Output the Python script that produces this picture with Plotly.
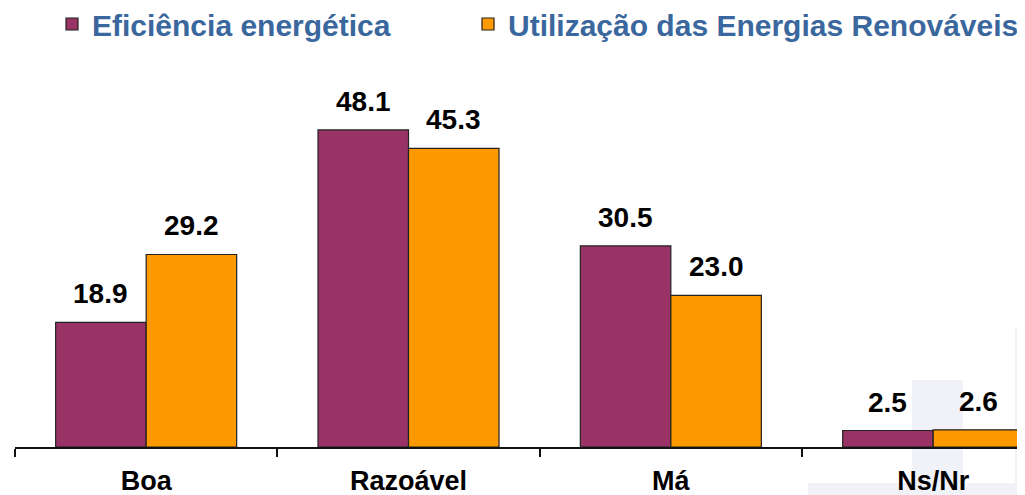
import plotly.graph_objects as go

categories = ["Boa", "Razoável", "Má", "Ns/Nr"]
eficiencia = [18.9, 48.1, 30.5, 2.5]
renovaveis = [29.2, 45.3, 23.0, 2.6]
series_names = ["Eficiência energética", "Utilização das Energias Renováveis"]
colors = ["#993366", "#FF9900"]

# the page body adds an 8px offset; the figure is sized to fill the rest of the window
OFF = 8
W, H = 1025 - OFF, 495 - OFF
ML, MR, MT, MB = 15 - OFF, 0, 60 - OFF, 48
BARGAP = 0.31
FONT = "Arial, Liberation Sans, sans-serif"

fig = go.Figure()
for i, (name, vals, col) in enumerate(zip(series_names, [eficiencia, renovaveis], colors)):
    fig.add_trace(go.Bar(
        x=categories, y=vals, name=name,
        legend="legend" if i == 0 else "legend2",
        marker=dict(color=col, line=dict(color="#222222", width=1.2)),
    ))

half = (1 - BARGAP) / 4
annotations = []
for si, vals in enumerate([eficiencia, renovaveis]):
    off = -half if si == 0 else half
    for ci, v in enumerate(vals):
        annotations.append(dict(
            x=ci + off, y=v, xref="x", yref="y", text=f"<b>{v:.1f}</b>",
            showarrow=False, yanchor="bottom", yshift=11,
            font=dict(family=FONT, size=28, color="#000000"),
        ))

pw = W - ML - MR
ph = H - MT - MB
def px2paper(px, py):
    px -= OFF
    py -= OFF
    return (px - ML) / pw, (H - MB - py) / ph

shapes = []
for (x0, y0, x1, y1) in [(912, 380, 963, 495), (1015, 328, 1025, 495), (808, 483, 1015, 495)]:
    a0, b0 = px2paper(x0, y1)
    a1, b1 = px2paper(x1, y0)
    shapes.append(dict(type="rect", xref="paper", yref="paper", x0=a0, x1=a1, y0=b0, y1=b1,
                       fillcolor="#F1F2F7", line=dict(width=0), layer="below"))

lx1, ly = px2paper(52, -2)
lx2, _ = px2paper(468, -2)
legfont = dict(family=FONT, size=30, color="#3A679D", weight="bold")

fig.update_layout(
    width=W, height=H,
    margin=dict(l=ML, r=MR, t=MT, b=MB, autoexpand=False),
    plot_bgcolor="rgba(0,0,0,0)", paper_bgcolor="white",
    barmode="group", bargap=BARGAP, bargroupgap=0,
    showlegend=True,
    legend=dict(orientation="h", x=lx1, xanchor="left", y=ly, yanchor="top",
                font=legfont, bgcolor="rgba(0,0,0,0)"),
    legend2=dict(orientation="h", x=lx2, xanchor="left", y=ly, yanchor="top",
                 font=legfont, bgcolor="rgba(0,0,0,0)"),
    xaxis=dict(range=[-0.5, 3.35], showline=True, linecolor="#111111", linewidth=2,
               ticks="outside", tickson="boundaries", ticklen=8, tickcolor="#111111", tickwidth=2,
               tickfont=dict(family=FONT, size=27, color="#000000", weight="bold"),
               ticklabelstandoff=9,
               showgrid=False, fixedrange=True),
    yaxis=dict(range=[0, 58.7], visible=False, showgrid=False, fixedrange=True),
    annotations=annotations,
    shapes=shapes,
)

fig.write_html("out.html")
